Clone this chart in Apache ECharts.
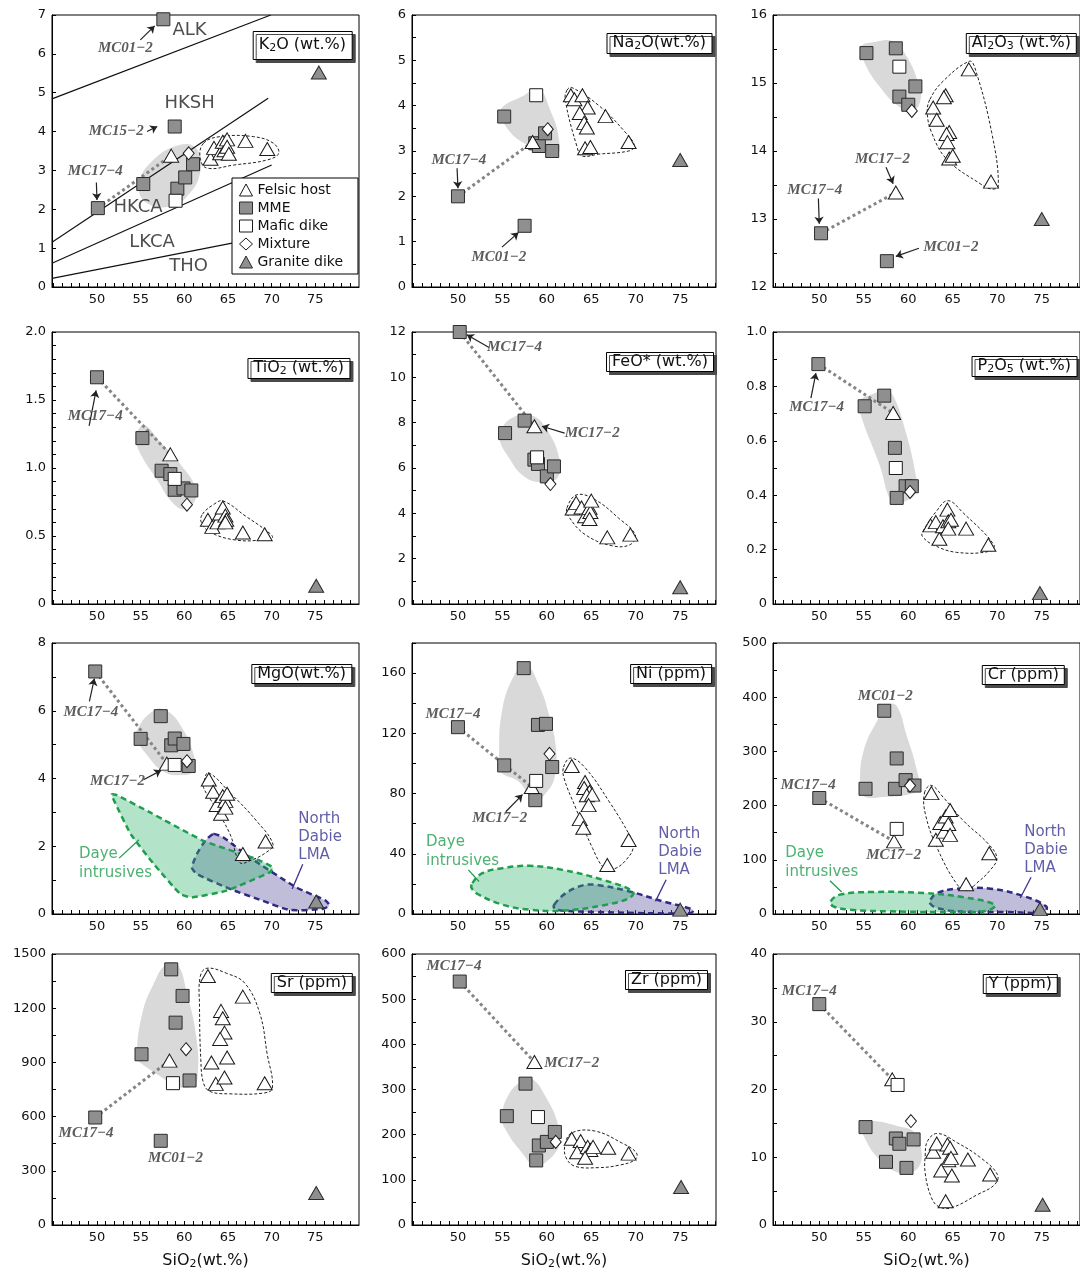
<!DOCTYPE html>
<html>
<head>
<meta charset="utf-8">
<script src="https://cdn.jsdelivr.net/npm/echarts@6/dist/echarts.min.js"></script>
<style>
html, body { margin: 0; padding: 0; background: #ffffff; }
#chart { width: 1080px; height: 1272px; }
</style>
</head>
<body>
<div id="chart"></div>
<script>
// ---------- SiO2 axis ----------
const siTicks = [45,46,47,48,49,50,51,52,53,54,55,56,57,58,59,60,61,62,63,64,65,66,67,68,69,70,71,72,73,74,75,76,77,78,79];
const siLabels = [50,55,60,65,70,75];

// ---------- K2O ----------
const k2oFelsic = [[58.5,3.38],[63.0,3.30],[63.4,3.58],[64.1,3.44],[64.4,3.74],[64.6,3.52],[64.9,3.80],[64.9,3.61],[65.1,3.43],[67.0,3.76],[69.5,3.55]];
const k2oMME = [[50.1,2.03],[57.6,6.89],[58.9,4.13],[55.3,2.65],[59.2,2.53],[60.1,2.82],[61.0,3.16]];
const k2oMafic = [[59.0,2.22]];
const k2oMix = [[60.5,3.44]];
const k2oGranite = [[75.4,5.52]];
const k2oMmeField = [[54.8,2.59],[56.1,3.19],[59.5,3.66],[61.5,3.53],[61.8,2.93],[60.3,2.33],[58.4,2.07],[55.7,2.16]];
const k2oFelsicField = [[62.2,3.70],[64.1,3.87],[67.9,3.87],[70.2,3.70],[70.8,3.44],[69.5,3.27],[65.7,3.14],[62.6,3.06],[61.8,3.32]];
const k2oClassLines = [
  [[44.85,4.84],[69.9,7.0]],
  [[44.85,1.15],[69.6,4.86]],
  [[44.85,0.61],[70.0,3.14]],
  [[44.85,0.22],[70.0,1.33]]
];
const k2oClassNames = ['ALK','HKSH','HKCA','LKCA','THO'];

// ---------- Na2O ----------
const na2oFelsic = [[58.4,3.20],[62.7,4.23],[63.1,4.14],[64.0,4.23],[64.6,3.96],[63.7,3.84],[64.2,3.62],[64.5,3.52],[66.6,3.77],[64.3,3.06],[64.9,3.09],[69.2,3.20]];
const na2oMME = [[50.0,2.00],[57.5,1.35],[55.2,3.76],[58.7,3.17],[59.1,3.11],[59.8,3.39],[60.6,3.00]];
const na2oMafic = [[58.8,4.23]];
const na2oMix = [[60.1,3.48]];
const na2oGranite = [[75.0,2.80]];
const na2oMmeField = [[54.76,3.90],[57.2,4.20],[59.07,4.36],[60.38,3.90],[61.32,3.31],[61.13,2.91],[59.07,3.09],[57.2,3.20],[55.3,3.57]];
const na2oFelsicField = [[62.26,4.34],[62.8,4.40],[65.8,4.01],[68.8,3.42],[69.86,3.11],[69.2,3.00],[65.8,2.93],[63.94,2.89],[63.4,3.09],[62.07,4.12]];

// ---------- Al2O3 ----------
const al2o3Felsic = [[58.6,13.39],[66.8,15.20],[64.2,14.82],[64.0,14.79],[62.8,14.64],[63.2,14.46],[64.6,14.28],[64.3,14.25],[64.4,14.13],[64.6,13.89],[65.0,13.93],[69.3,13.55]];
const al2o3MME = [[50.2,12.79],[57.6,12.38],[55.3,15.44],[58.6,15.51],[59.0,14.80],[60.0,14.68],[60.8,14.95]];
const al2o3Mafic = [[59.0,15.24]];
const al2o3Mix = [[60.4,14.59]];
const al2o3Granite = [[75.0,13.0]];
const al2o3MmeField = [[54.76,15.54],[56.07,15.60],[58.32,15.61],[59.82,15.39],[61.13,15.0],[61.39,14.76],[60.57,14.59],[59.07,14.64],[56.82,14.94],[54.95,15.34]];
const al2o3FelsicField = [[62.44,14.76],[63.94,15.03],[66.87,15.32],[67.5,15.22],[69.38,14.27],[70.13,13.49],[69.38,13.44],[68.07,13.52],[64.32,13.88],[62.63,14.27],[62.14,14.56]];

// ---------- TiO2 ----------
const tio2Felsic = [[58.4,1.10],[62.7,0.62],[63.2,0.567],[63.8,0.60],[64.1,0.665],[64.4,0.71],[64.7,0.65],[64.8,0.62],[64.7,0.60],[66.7,0.526],[69.2,0.513]];
const tio2MME = [[50.0,1.667],[55.2,1.22],[57.4,0.98],[58.4,0.955],[58.9,0.84],[59.9,0.85],[60.8,0.835]];
const tio2Mafic = [[58.9,0.92]];
const tio2Mix = [[60.3,0.73]];
const tio2Granite = [[75.1,0.134]];
const tio2MmeField = [[54.52,1.259],[55.47,1.315],[56.98,1.21],[59.24,1.051],[61.31,0.856],[61.2,0.758],[59.99,0.697],[58.48,0.758],[56.98,0.905],[55.17,1.081],[54.45,1.198]];
const tio2FelsicField = [[62.07,0.66],[63.39,0.733],[64.44,0.758],[66.97,0.648],[69.42,0.538],[70.1,0.489],[69.04,0.472],[66.03,0.469],[63.0,0.526],[61.95,0.599]];

// ---------- FeO* ----------
const feoFelsic = [[58.6,7.84],[62.9,4.21],[63.3,4.46],[63.9,4.26],[64.3,3.87],[64.8,4.24],[64.9,4.06],[64.8,3.75],[65.0,4.56],[66.8,2.94],[69.4,3.06]];
const feoMME = [[50.2,12.0],[55.3,7.54],[57.5,8.09],[58.6,6.37],[59.0,6.18],[60.0,5.63],[60.8,6.07]];
const feoMafic = [[58.9,6.47]];
const feoMix = [[60.4,5.29]];
const feoGranite = [[75.0,0.74]];
const feoMmeField = [[54.76,7.62],[56.07,8.21],[58.32,8.32],[60.0,7.69],[61.39,6.44],[61.24,5.59],[59.82,5.38],[57.57,5.59],[55.51,6.59],[54.68,7.25]];
const feoFelsicField = [[62.26,4.24],[63.38,4.82],[65.44,4.60],[68.07,3.79],[69.94,3.06],[69.38,2.62],[67.32,2.57],[64.32,3.06],[62.44,3.87]];

// ---------- P2O5 ----------
const p2o5Felsic = [[58.3,0.702],[62.5,0.289],[63.1,0.301],[63.5,0.24],[63.9,0.286],[64.4,0.347],[64.5,0.304],[64.8,0.31],[64.5,0.277],[66.5,0.277],[69.0,0.218]];
const p2o5MME = [[49.9,0.882],[55.1,0.727],[57.3,0.766],[58.5,0.574],[59.7,0.433],[60.4,0.433],[58.7,0.39]];
const p2o5Mafic = [[58.6,0.50]];
const p2o5Mix = [[60.2,0.412]];
const p2o5Granite = [[74.8,0.04]];
const p2o5MmeField = [[54.51,0.745],[56.02,0.772],[57.52,0.784],[58.35,0.763],[59.59,0.647],[60.83,0.475],[60.83,0.408],[59.59,0.377],[58.27,0.369],[56.77,0.512],[54.59,0.702]];
const p2o5FelsicField = [[61.65,0.267],[63.16,0.341],[64.47,0.38],[66.17,0.335],[69.62,0.218],[69.17,0.194],[65.41,0.19],[62.78,0.218],[61.58,0.249]];

// ---------- MgO ----------
const mgoFelsic = [[58.0,4.44],[62.8,3.97],[63.3,3.61],[63.7,3.22],[64.4,3.48],[64.7,3.34],[64.9,3.55],[64.2,2.96],[64.7,3.14],[69.3,2.14],[66.7,1.77]];
const mgoMME = [[49.8,7.16],[55.0,5.17],[57.3,5.84],[58.5,4.98],[58.9,5.18],[59.9,5.02],[60.5,4.37]];
const mgoMafic = [[58.9,4.40]];
const mgoMix = [[60.3,4.51]];
const mgoGranite = [[75.1,0.37]];
const mgoMmeField = [[54.62,5.45],[56.52,6.01],[58.03,5.99],[59.73,5.50],[61.06,4.71],[61.06,4.22],[59.73,4.10],[57.65,4.20],[55.68,4.71],[54.62,5.15]];
const mgoFelsicField = [[62.27,3.93],[62.77,4.17],[65.23,3.58],[68.26,2.75],[70.15,2.06],[69.39,1.82],[67.5,1.57],[66.36,1.52],[65.23,2.36],[63.33,3.24],[62.2,3.73]];
const mgoDaye = [[51.67,3.53],[52.27,3.51],[56.14,2.99],[62.2,2.16],[68.26,1.62],[70.15,1.37],[69.77,1.23],[64.85,0.69],[60.87,0.49],[59.55,0.59],[56.52,1.47],[53.86,2.36],[51.97,3.34]];
const mgoDabie = [[63.33,2.36],[64.47,2.26],[67.5,1.67],[72.8,0.79],[76.21,0.39],[76.59,0.25],[75.83,0.15],[72.05,0.12],[69.0,0.39],[65.23,0.74],[61.44,1.18],[60.87,1.37],[61.44,1.77],[62.39,2.16]];

// ---------- Ni ----------
const niFelsic = [[58.3,84.4],[62.8,98.3],[64.3,87.7],[64.2,83.7],[64.8,81.1],[64.5,78.9],[65.1,79.3],[64.7,72.3],[63.7,63.0],[64.1,57.3],[69.2,49.1],[66.8,32.6]];
const niMME = [[50.0,124.1],[57.4,163.3],[55.2,98.7],[59.0,125.6],[59.9,126.3],[60.6,97.6],[58.7,75.6]];
const niMafic = [[58.8,88.4]];
const niMix = [[60.3,106.4]];
const niGranite = [[75.0,2.9]];
const niMmeField = [[54.62,103.1],[55.0,136.2],[56.5,160.4],[57.63,165.9],[59.14,151.6],[60.26,131.8],[61.02,109.7],[60.83,89.9],[59.7,78.9],[58.76,73.4],[56.88,87.7],[54.81,94.3]];
const niFelsicField = [[61.88,97.6],[62.71,103.6],[64.4,96.5],[67.03,74.5],[69.29,52.5],[69.74,44.7],[68.91,35.9],[67.59,30.0],[66.47,30.4],[65.15,43.6],[63.27,70.1],[61.95,89.9]];
const niDaye = [[51.62,20.5],[52.74,27.1],[55.0,30.4],[58.0,32.0],[61.77,29.3],[66.28,22.7],[69.66,15.0],[69.29,10.6],[66.28,5.7],[61.77,2.2],[58.0,2.9],[55.0,6.2],[52.37,12.8],[51.54,17.2]];
const niDabie = [[60.83,6.2],[62.14,13.9],[64.02,19.0],[65.53,19.4],[69.29,15.0],[73.05,8.4],[76.43,2.9],[76.24,0.7],[73.05,0.4],[65.53,1.3],[61.77,2.2],[60.9,3.5]];

// ---------- Cr ----------
const crFelsic = [[58.4,134],[62.6,223],[63.1,137],[63.6,168],[64.2,180],[64.0,152],[64.5,166],[64.7,146],[64.7,192],[66.5,55],[69.1,112]];
const crMME = [[50.0,214],[57.3,375],[55.2,231],[58.5,231],[58.7,287],[59.7,247],[60.7,237]];
const crMafic = [[58.7,157]];
const crMix = [[60.2,237]];
const crGranite = [[74.8,9]];
const crMmeField = [[54.59,238.6],[54.97,300.1],[56.48,355.5],[57.79,386.2],[58.73,383.2],[59.79,330.9],[60.81,275.5],[61.18,232.5],[60.24,221.4],[57.23,215.9],[54.97,217.1]];
const crFelsicField = [[61.82,223.2],[62.58,237.4],[64.0,214.0],[66.26,171.0],[68.9,131.0],[69.95,103.3],[69.09,78.7],[67.58,55.4],[66.64,43.1],[65.51,54.1],[63.25,121.8],[61.94,183.3]];
const crDaye = [[51.28,23.4],[52.33,35.7],[56.1,40.6],[61.75,38.7],[66.26,30.8],[69.73,17.2],[68.9,6.2],[65.51,3.7],[57.98,4.9],[53.46,8.0],[51.58,14.1]];
const crDabie = [[62.5,26.4],[63.25,38.7],[65.51,46.7],[69.28,46.7],[73.04,32.6],[75.49,14.1],[75.3,3.7],[71.16,3.7],[65.51,4.9],[63.25,11.1],[62.5,18.5]];

// ---------- Sr ----------
const srFelsic = [[58.3,910],[62.7,1378],[66.7,1264],[64.2,1185],[64.4,1144],[64.6,1065],[64.1,1030],[63.1,899],[64.9,927],[63.6,781],[64.6,816],[69.2,785]];
const srMME = [[49.8,595],[57.3,466],[55.1,945],[58.5,1415],[59.8,1268],[59.0,1120],[60.6,800]];
const srMafic = [[58.7,785]];
const srMix = [[60.2,973]];
const srGranite = [[75.1,177]];
const srMmeField = [[54.55,923],[55.19,1172],[56.52,1338],[57.84,1439],[59.17,1445],[60.3,1283],[61.36,1043],[61.52,822],[60.87,767],[59.17,767],[57.27,822],[55.0,896]];
const srFelsicField = [[61.82,1375],[62.58,1421],[64.85,1393],[66.93,1338],[68.64,1172],[69.47,951],[70.08,757],[69.02,730],[65.23,726],[62.95,739],[62.2,785],[61.89,914],[61.74,1209]];

// ---------- Zr ----------
const zrFelsic = [[58.6,361],[62.8,191],[63.8,186],[63.4,161],[64.6,173],[64.9,166],[65.2,173],[64.3,149],[66.9,171],[69.2,158]];
const zrMME = [[50.2,539],[55.5,241],[57.6,313],[59.1,176],[60.0,184],[60.9,206],[58.8,143]];
const zrMafic = [[59.0,239]];
const zrMix = [[61.0,184]];
const zrGranite = [[75.1,84]];
const zrMmeField = [[54.96,241],[55.71,289],[57.2,319],[58.32,324],[59.81,286],[61.31,219],[61.31,175],[60.0,141],[58.69,130],[57.2,160],[55.34,212]];
const zrFelsicField = [[62.05,178],[62.8,204],[65.41,208],[68.4,182],[70.07,160],[69.89,144],[68.02,132],[65.78,127],[63.17,130],[62.16,149]];

// ---------- Y ----------
const yFelsic = [[58.2,21.5],[62.8,10.8],[63.2,12.03],[64.4,11.89],[64.7,11.39],[64.5,9.57],[64.8,9.91],[63.7,8.04],[64.9,7.30],[64.2,3.5],[66.7,9.67],[69.2,7.45]];
const yMME = [[50.0,32.6],[55.2,14.45],[57.5,9.32],[58.6,12.77],[59.0,11.99],[60.6,12.63],[59.8,8.43]];
const yMafic = [[58.8,20.67]];
const yMix = [[60.3,15.34]];
const yGranite = [[75.1,3.0]];
const yMmeField = [[54.68,15.19],[56.18,15.34],[58.79,14.6],[60.67,13.71],[61.41,11.64],[61.23,8.68],[59.73,7.69],[58.05,8.19],[56.92,9.42],[55.43,12.03]];
const yFelsicField = [[61.9,10.16],[62.16,12.38],[63.29,13.51],[65.53,12.13],[68.15,9.91],[70.02,7.45],[69.72,5.97],[67.78,4.49],[64.78,2.52],[63.36,2.76],[62.54,4.24],[61.9,7.69]];

// ---------- styles & layout ----------
const SANS = '"DejaVu Sans", "Noto Sans", sans-serif';
const SERIF = '"Liberation Serif", "DejaVu Serif", serif';

const groups = [
  { name: 'MME',          key: 'mme',     symbol: 'rect',     size: 13,      fill: '#8f8f8f', stroke: '#2b2b2b' },
  { name: 'Felsic host',  key: 'felsic',  symbol: 'triangle', size: [15,13], fill: '#ffffff', stroke: '#1a1a1a' },
  { name: 'Mafic dike',   key: 'mafic',   symbol: 'rect',     size: 13,      fill: '#ffffff', stroke: '#1a1a1a' },
  { name: 'Mixture',      key: 'mix',     symbol: 'diamond',  size: [11,13], fill: '#ffffff', stroke: '#1a1a1a' },
  { name: 'Granite dike', key: 'granite', symbol: 'triangle', size: [15,13], fill: '#8f8f8f', stroke: '#2b2b2b' }
];

const colLeft = [52, 412, 773];
const colWidth = [307, 304, 307];
const colXMin = [44.85, 44.83, 44.8];
const colXMax = [80.0, 79.03, 79.3];
const rowTop = [15, 332, 643, 954];
const rowHeight = [272, 272, 271, 271];

const panels = [
  { title: ['K','2','O (wt.%)'], y: [0,7,1], lab: [1,0], box: [352,30,6],
    felsic: k2oFelsic, mme: k2oMME, mafic: k2oMafic, mix: k2oMix, granite: k2oGranite,
    mmeField: k2oMmeField, felsicField: k2oFelsicField,
    notes: [
      { t: 'MC01−2', at: [53.25,6.14], arrow: [[54.97,6.36],[56.6,6.72]] },
      { t: 'MC15−2', at: [52.2,4.0],  arrow: [[55.73,4.0],[56.9,4.13]] },
      { t: 'MC17−4', at: [49.81,2.97], arrow: [[49.93,2.69],[50.0,2.24]] }
    ],
    classPos: [[60.6,6.61],[60.6,4.73],[54.7,2.06],[56.3,1.14],[60.5,0.52]] },
  { title: ['Na','2','O(wt.%)'], y: [0,6,0.5], lab: [1,0], box: [712,32,2],
    felsic: na2oFelsic, mme: na2oMME, mafic: na2oMafic, mix: na2oMix, granite: na2oGranite,
    mmeField: na2oMmeField, felsicField: na2oFelsicField,
    notes: [
      { t: 'MC17−4', at: [50.1,2.80], arrow: [[49.9,2.62],[50.0,2.18]] },
      { t: 'MC01−2', at: [54.6,0.66], arrow: [[54.95,0.88],[56.8,1.2]] }
    ] },
  { title: ['Al','2','O','3',' (wt.%)'], y: [12,16,0.5], lab: [1,0], box: [1077,32,2],
    felsic: al2o3Felsic, mme: al2o3MME, mafic: al2o3Mafic, mix: al2o3Mix, granite: al2o3Granite,
    mmeField: al2o3MmeField, felsicField: al2o3FelsicField,
    notes: [
      { t: 'MC17−2', at: [57.1,13.88], arrow: [[57.5,13.76],[58.3,13.52]] },
      { t: 'MC17−4', at: [49.5,13.42], arrow: [[49.9,13.30],[50.0,12.93]] },
      { t: 'MC01−2', at: [64.8,12.58], arrow: [[61.2,12.57],[58.6,12.45]] }
    ] },
  { title: ['TiO','2',' (wt.%)'], y: [0,2,0.1], lab: [0.5,1], box: [350,357,2],
    felsic: tio2Felsic, mme: tio2MME, mafic: tio2Mafic, mix: tio2Mix, granite: tio2Granite,
    mmeField: tio2MmeField, felsicField: tio2FelsicField,
    notes: [
      { t: 'MC17−4', at: [49.8,1.38], arrow: [[49.1,1.31],[49.9,1.57]] }
    ] },
  { title: ['FeO* (wt.%)'], y: [0,12,1], lab: [2,0], box: [714,351,2],
    felsic: feoFelsic, mme: feoMME, mafic: feoMafic, mix: feoMix, granite: feoGranite,
    mmeField: feoMmeField, felsicField: feoFelsicField,
    notes: [
      { t: 'MC17−4', at: [56.37,11.32], arrow: [[53.5,11.32],[51.0,11.88]] },
      { t: 'MC17−2', at: [65.1,7.54], arrow: [[62.0,7.54],[59.45,7.84]] }
    ] },
  { title: ['P','2','O','5',' (wt.%)'], y: [0,1,0.1], lab: [0.2,1], box: [1077,355,2],
    felsic: p2o5Felsic, mme: p2o5MME, mafic: p2o5Mafic, mix: p2o5Mix, granite: p2o5Granite,
    mmeField: p2o5MmeField, felsicField: p2o5FelsicField,
    notes: [
      { t: 'MC17−4', at: [49.7,0.723], arrow: [[49.06,0.757],[49.62,0.849]] }
    ] },
  { title: ['MgO(wt.%)'], y: [0,8,1], lab: [2,0], box: [352,663,2],
    felsic: mgoFelsic, mme: mgoMME, mafic: mgoMafic, mix: mgoMix, granite: mgoGranite,
    mmeField: mgoMmeField, felsicField: mgoFelsicField,
    daye: mgoDaye, dabie: mgoDabie, dayeSmooth: 0.15, dabieSmooth: 0.2,
    dayeText: { at: [47.88,1.48], lead: [[52.54,1.65],[54.81,2.19]] },
    dabieText: { at: [72.99,2.26], lead: [[73.56,1.47],[72.35,0.74]] },
    notes: [
      { t: 'MC17−4', at: [49.3,5.97], arrow: [[49.13,6.28],[49.7,6.95]] },
      { t: 'MC17−2', at: [52.35,3.93], arrow: [[55.38,3.97],[57.35,4.24]] }
    ] },
  { title: ['Ni (ppm)'], y: [0,180,20], lab: [40,0], box: [712,663,2],
    felsic: niFelsic, mme: niMME, mafic: niMafic, mix: niMix, granite: niGranite,
    mmeField: niMmeField, felsicField: niFelsicField,
    daye: niDaye, dabie: niDabie, dayeSmooth: 0.4, dabieSmooth: 0.35,
    dayeText: { at: [46.35,41.65], lead: [[51.17,29.3],[52.37,21.6]] },
    dabieText: { at: [72.48,41.2], lead: [[73.42,22.7],[72.22,8.4]] },
    notes: [
      { t: 'MC17−4', at: [49.44,132.9] },
      { t: 'MC17−2', at: [54.7,63.9], arrow: [[55.38,67.9],[57.26,79.3]] }
    ] },
  { title: ['Cr (ppm)'], y: [0,500,50], lab: [100,0], box: [1065,664,2],
    felsic: crFelsic, mme: crMME, mafic: crMafic, mix: crMix, granite: crGranite,
    mmeField: crMmeField, felsicField: crFelsicField,
    daye: crDaye, dabie: crDabie, dayeSmooth: 0.4, dabieSmooth: 0.4,
    dayeText: { at: [46.12,94.7], lead: [[51.2,61.5],[52.52,40.6]] },
    dabieText: { at: [72.97,118.7], lead: [[73.8,67.7],[72.59,29.5]] },
    notes: [
      { t: 'MC01−2', at: [57.42,402.8] },
      { t: 'MC17−4', at: [48.76,238.6] },
      { t: 'MC17−2', at: [58.36,109.5] }
    ] },
  { title: ['Sr (ppm)'], y: [0,1500,150], lab: [300,0], box: [353,972,2],
    felsic: srFelsic, mme: srMME, mafic: srMafic, mix: srMix, granite: srGranite,
    mmeField: srMmeField, felsicField: srFelsicField,
    notes: [
      { t: 'MC17−4', at: [48.75,508.6] },
      { t: 'MC01−2', at: [58.98,370.4] }
    ] },
  { title: ['Zr (ppm)'], y: [0,600,50], lab: [100,0], box: [708,969,2],
    felsic: zrFelsic, mme: zrMME, mafic: zrMafic, mix: zrMix, granite: zrGranite,
    mmeField: zrMmeField, felsicField: zrFelsicField,
    notes: [
      { t: 'MC17−4', at: [49.55,574.1] },
      { t: 'MC17−2', at: [62.8,358.1] }
    ] },
  { title: ['Y (ppm)'], y: [0,40,5], lab: [10,0], box: [1058,973,2],
    felsic: yFelsic, mme: yMME, mafic: yMafic, mix: yMix, granite: yGranite,
    mmeField: yMmeField, felsicField: yFelsicField,
    notes: [
      { t: 'MC17−4', at: [48.88,34.57] }
    ] }
];

// ---------- helpers ----------
function titleRich(parts) {
  return parts.map((s, k) => (k % 2 === 0 ? '{t|' + s + '}' : '{s|' + s + '}')).join('');
}
const richStyles = {
  t: { fontSize: 16, fontFamily: SANS, fontWeight: 'normal', color: '#111', lineHeight: 18 },
  s: { fontSize: 11, fontFamily: SANS, fontWeight: 'normal', color: '#111', lineHeight: 12, verticalAlign: 'bottom' }
};
function yFormatter(step, dec) {
  return function (v) {
    const k = v / step;
    if (Math.abs(k - Math.round(k)) > 1e-6) return '';
    return v === 0 ? '0' : v.toFixed(dec);
  };
}
function polygonSeries(gi, pts, style, smooth) {
  return {
    type: 'custom', xAxisIndex: gi, yAxisIndex: gi, z: 1, silent: true,
    data: [pts[0]],
    renderItem: function (params, api) {
      return {
        type: 'polygon',
        shape: { points: pts.map(p => api.coord(p)), smooth: smooth },
        style: style
      };
    }
  };
}
function textSeries(gi, items, label) {
  return {
    type: 'scatter', xAxisIndex: gi, yAxisIndex: gi, z: 5, silent: true,
    symbol: 'circle', symbolSize: 1, itemStyle: { color: 'rgba(0,0,0,0)' },
    data: items.map(it => ({ value: it.at, label: { formatter: it.text } })),
    label: Object.assign({ show: true }, label)
  };
}
function segSeries(gi, segs, color, width, arrow) {
  return {
    type: 'lines', coordinateSystem: 'cartesian2d', xAxisIndex: gi, yAxisIndex: gi,
    z: 5, silent: true, polyline: false,
    symbol: arrow ? ['none', 'arrow'] : ['none', 'none'], symbolSize: 7,
    lineStyle: { color: color, width: width, opacity: 1, type: 'solid' },
    data: segs.map(s => ({ coords: s }))
  };
}

const grid = [], xAxis = [], yAxis = [], title = [], series = [];

panels.forEach((p, i) => {
  const col = i % 3, row = Math.floor(i / 3);
  grid.push({
    left: colLeft[col], top: rowTop[row], width: colWidth[col], height: rowHeight[row],
    show: true, borderColor: '#000', borderWidth: 1, backgroundColor: 'transparent'
  });
  xAxis.push({
    gridIndex: i, type: 'value', min: colXMin[col], max: colXMax[col],
    axisLine: { show: true, onZero: false, lineStyle: { color: '#000', width: 1 } },
    axisTick: { show: true, inside: true, length: 4, customValues: siTicks, lineStyle: { color: '#000', width: 1 } },
    axisLabel: { show: true, customValues: siLabels, margin: 6, fontSize: 13, fontFamily: SANS, color: '#111' },
    splitLine: { show: false },
    name: row === 3 ? '{t|SiO}{s|2}{t|(wt.%)}' : '',
    nameLocation: 'middle', nameGap: 27,
    nameTextStyle: { rich: richStyles }
  });
  yAxis.push({
    gridIndex: i, type: 'value', min: p.y[0], max: p.y[1], interval: p.y[2],
    axisLine: { show: true, onZero: false, lineStyle: { color: '#000', width: 1 } },
    axisTick: { show: true, inside: true, length: 4, lineStyle: { color: '#000', width: 1 } },
    axisLabel: { margin: 6, fontSize: 13, fontFamily: SANS, color: '#111', formatter: yFormatter(p.lab[0], p.lab[1]) },
    splitLine: { show: false }
  });
  title.push({
    text: titleRich(p.title),
    right: 1080 - p.box[0], top: p.box[1],
    padding: [p.box[2], 6, p.box[2], 6],
    backgroundColor: '#fff', borderColor: '#000', borderWidth: 1,
    shadowColor: '#4a4a4a', shadowBlur: 0, shadowOffsetX: 3, shadowOffsetY: 3,
    textStyle: { fontWeight: 'normal', fontSize: 16, fontFamily: SANS, color: '#111', rich: richStyles }
  });

  // reference fields
  if (p.dabie) series.push(polygonSeries(i, p.dabie, { fill: 'rgba(105,98,170,0.42)', stroke: '#2f2a82', lineWidth: 2.5, lineDash: [6, 4] }, p.dabieSmooth));
  if (p.daye) series.push(polygonSeries(i, p.daye, { fill: 'rgba(55,185,115,0.38)', stroke: '#1f9e4e', lineWidth: 2.5, lineDash: [6, 4] }, p.dayeSmooth));
  series.push(polygonSeries(i, p.mmeField, { fill: '#d9d9d9', stroke: 'none' }, 0.45));
  series.push(polygonSeries(i, p.felsicField, { fill: 'none', stroke: '#222', lineWidth: 1, lineDash: [3, 2] }, 0.4));

  // K2O series boundaries and field names
  if (i === 0) {
    k2oClassLines.forEach(seg => {
      series.push({
        type: 'line', xAxisIndex: 0, yAxisIndex: 0, data: seg, symbol: 'none', z: 2, silent: true,
        lineStyle: { color: '#111', width: 1.2 }
      });
    });
    series.push(textSeries(0, k2oClassNames.map((n, k) => ({ text: n, at: p.classPos[k] })),
      { position: 'inside', fontSize: 18, fontFamily: SANS, color: '#222' }));
  }

  // MC17-4 to MC17-2 tie line
  series.push({
    type: 'line', xAxisIndex: i, yAxisIndex: i, data: [p.mme[0], p.felsic[0]], symbol: 'none', z: 2, silent: true,
    lineStyle: { color: '#858585', width: 3, type: [3, 3] }
  });

  // samples
  groups.forEach(g => {
    series.push({
      type: 'scatter', name: g.name, xAxisIndex: i, yAxisIndex: i, z: 3,
      symbol: g.symbol, symbolSize: g.size,
      itemStyle: { color: g.fill, borderColor: g.stroke, borderWidth: 1, opacity: 1 },
      data: p[g.key]
    });
  });

  // sample annotations
  series.push(textSeries(i, p.notes.map(n => ({ text: n.t, at: n.at })),
    { position: 'inside', fontSize: 15, fontFamily: SERIF, fontStyle: 'italic', fontWeight: 'bold', color: '#333' }));
  const arrows = p.notes.filter(n => n.arrow).map(n => n.arrow);
  if (arrows.length) series.push(segSeries(i, arrows, '#222', 1.2, true));

  // Daye / North Dabie labels
  if (p.dayeText) {
    series.push(textSeries(i, [{ text: 'Daye\nintrusives', at: p.dayeText.at }],
      { position: 'right', distance: 0, align: 'left', verticalAlign: 'middle', fontSize: 15, lineHeight: 19, fontFamily: SANS, color: '#1f9e4e' }));
    series.push(segSeries(i, [p.dayeText.lead], '#1f9e4e', 1.3, false));
  }
  if (p.dabieText) {
    series.push(textSeries(i, [{ text: 'North\nDabie\nLMA', at: p.dabieText.at }],
      { position: 'right', distance: 0, align: 'left', verticalAlign: 'middle', fontSize: 15, lineHeight: 18, fontFamily: SANS, color: '#3a3490' }));
    series.push(segSeries(i, [p.dabieText.lead], '#3a3490', 1.3, false));
  }
});

const option = {
  animation: false,
  backgroundColor: '#ffffff',
  title: title,
  legend: {
    data: ['Felsic host', 'MME', 'Mafic dike', 'Mixture', 'Granite dike'],
    orient: 'vertical', left: 232, top: 178,
    padding: [5, 15, 5, 7], itemGap: 4, itemWidth: 13, itemHeight: 12,
    backgroundColor: '#fff', borderColor: '#000', borderWidth: 1,
    itemStyle: { borderWidth: 1 },
    textStyle: { fontSize: 14, fontFamily: SANS, color: '#111' },
    selectedMode: false
  },
  grid: grid,
  xAxis: xAxis,
  yAxis: yAxis,
  series: series
};

const chart = echarts.init(document.getElementById('chart'), null, { renderer: 'canvas' });
chart.setOption(option);
</script>
</body>
</html>
